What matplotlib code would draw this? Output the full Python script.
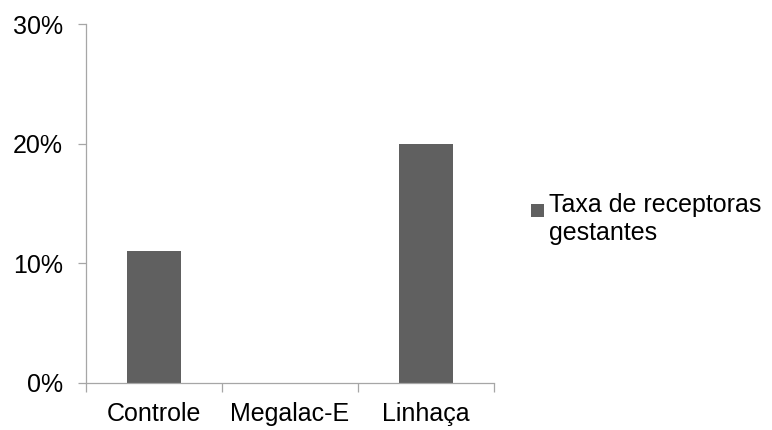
import matplotlib.pyplot as plt
import matplotlib.patches as patches
from matplotlib.legend_handler import HandlerPatch
from matplotlib.ticker import FixedLocator, PercentFormatter

plt.rcParams['font.family'] = ['Liberation Sans', 'DejaVu Sans']

categories = ["Controle", "Megalac-E", "Linhaça"]
taxa_gestantes = [11, 0, 20]  # %
y_ticks = [0, 10, 20, 30]
series_label = "Taxa de receptoras\ngestantes"

bar_color = "#606060"
axis_color = "#a6a6a6"
font_size = 18

fig = plt.figure(figsize=(7.72, 4.30), dpi=100)
ax = fig.add_axes([86 / 772, 1 - 383 / 430, 408 / 772, 359 / 430])

x = range(len(categories))
ax.bar(x, taxa_gestantes, width=0.4, color=bar_color, zorder=2)

ax.set_xlim(-0.5, len(categories) - 0.5)
ax.set_ylim(0, 30)

for side in ("top", "right"):
    ax.spines[side].set_visible(False)
for side in ("left", "bottom"):
    ax.spines[side].set_color(axis_color)
    ax.spines[side].set_linewidth(0.9)

ax.set_yticks(y_ticks)
ax.yaxis.set_major_formatter(PercentFormatter(decimals=0))
ax.tick_params(axis="y", direction="out", length=5.8, width=0.9, color=axis_color,
               labelsize=font_size, pad=11)

# category labels centred, tick marks between the categories
ax.set_xticks(list(x))
ax.set_xticklabels(categories)
ax.xaxis.set_minor_locator(FixedLocator([i - 0.5 for i in range(len(categories) + 1)]))
ax.tick_params(axis="x", which="major", length=0, labelsize=font_size, pad=14)
ax.tick_params(axis="x", which="minor", direction="out", length=6.5, width=0.9,
               color=axis_color)


# legend key sits beside the first line of the wrapped label
class TopSquare(HandlerPatch):
    def create_artists(self, legend, orig_handle, xdescent, ydescent, width, height,
                       fontsize, trans):
        side = 0.52 * fontsize
        rect = patches.Rectangle((-xdescent, -ydescent + height - side * 0.35), side, side,
                                 facecolor=orig_handle.get_facecolor(), edgecolor="none",
                                 transform=trans)
        return [rect]


handle = patches.Patch(color=bar_color)
leg = ax.legend([handle], [series_label], loc="upper left",
                bbox_to_anchor=(531 / 772, 1 - 193 / 430), bbox_transform=fig.transFigure,
                frameon=False, fontsize=font_size, handlelength=0.52, handleheight=0.52,
                handletextpad=0.2, borderpad=0, borderaxespad=0,
                handler_map={patches.Patch: TopSquare()})
for t in leg.get_texts():
    t.set_linespacing(1.2)

fig.savefig("out.png", dpi=100)
